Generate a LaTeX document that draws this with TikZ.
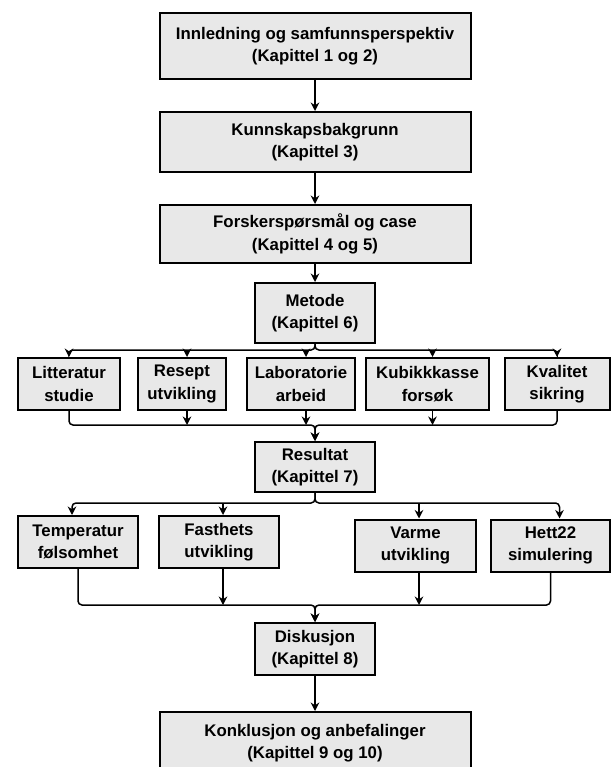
\documentclass[tikz,border=0pt]{standalone}
\usepackage{fontspec}
\setmainfont{Liberation Sans}
\usetikzlibrary{arrows.meta}
\definecolor{boxgray}{HTML}{E8E8E8}
\begin{document}
\begin{tikzpicture}[x=1pt,y=-1pt,
  box/.style={draw=black, line width=2pt, fill=boxgray, align=center, inner sep=0pt,
    font=\bfseries\fontsize{16.8}{22.5}\selectfont},
  wide/.style={box, minimum width=311pt},
  mid/.style={box, minimum width=120pt},
  conn/.style={line width=1.5pt, rounded corners=4pt},
  arr/.style={conn, -{Stealth[length=8.5pt,width=8.5pt]}}]
\useasboundingbox (0,0) rectangle (611,767);
\fill[white] (0,0) rectangle (611,767);

\node[wide, minimum height=66pt] (n1) at (315,46) {Innledning og samfunnsperspektiv\\(Kapittel 1 og 2)};
\node[wide, minimum height=60pt] (n2) at (315,142) {Kunnskapsbakgrunn\\(Kapittel 3)};
\node[wide, minimum height=58pt] (n3) at (315,234) {Forskerspørsmål og case\\(Kapittel 4 og 5)};
\node[mid, minimum height=60pt] (met) at (315,313) {Metode\\(Kapittel 6)};

\node[box, minimum width=102pt, minimum height=52pt] (lit) at (69,384) {Litteratur\\studie};
\node[box, minimum width=88pt, minimum height=52pt] (res) at (182,384) {Resept\\utvikling};
\node[box, minimum width=108pt, minimum height=52pt] (lab) at (301,384) {Laboratorie\\arbeid};
\node[box, minimum width=123pt, minimum height=52pt] (kub) at (427.5,384) {Kubikkkasse\\forsøk};
\node[box, minimum width=105pt, minimum height=52pt] (kva) at (557,384) {Kvalitet\\sikring};

\node[mid, minimum height=50pt] (resu) at (315,467) {Resultat\\(Kapittel 7)};

\node[mid, minimum height=52pt] (tem) at (78,542) {Temperatur\\følsomhet};
\node[mid, minimum height=52pt] (fas) at (219,542) {Fasthets\\utvikling};
\node[box, minimum width=121pt, minimum height=52pt] (var) at (415.5,545.5) {Varme\\utvikling};
\node[box, minimum width=119pt, minimum height=52pt] (het) at (550.5,545.5) {Hett22\\simulering};

\node[mid, minimum height=52pt] (dis) at (315,649) {Diskusjon\\(Kapittel 8)};
\node[wide, minimum height=62pt] (kon) at (315,743) {Konklusjon og anbefalinger\\(Kapittel 9 og 10)};

\coordinate (b1) at (315,350);
\coordinate (m1) at (315,425);
\coordinate (b2) at (315,503);
\coordinate (m2) at (315,605);

\draw[arr] (n1.south) -- (n2.north);
\draw[arr] (n2.south) -- (n3.north);
\draw[arr] (n3.south) -- (met.north);

% branch 1
\draw[arr] (met.south) -- (met.south |- b1) -| (lit.north);
\draw[arr] (met.south) -- (met.south |- b1) -| (kva.north);
\draw[arr] ([xshift=5pt]res.north |- b1) -- ([xshift=5pt]res.north);
\draw[arr] ([xshift=5pt]lab.north |- b1) -- ([xshift=5pt]lab.north);
\draw[arr] ([xshift=5pt]kub.north |- b1) -- ([xshift=5pt]kub.north);

% merge 1
\draw[arr] (lit.south) |- (resu.north |- m1) -- (resu.north);
\draw[arr] (kva.south) |- (resu.north |- m1) -- (resu.north);
\draw[arr] ([xshift=5pt]res.south) -- ([xshift=5pt]res.south |- m1);
\draw[arr] ([xshift=5pt]lab.south) -- ([xshift=5pt]lab.south |- m1);
\draw[arr] ([xshift=5pt]kub.south) -- ([xshift=5pt]kub.south |- m1);

% branch 2
\draw[arr] (resu.south) -- (resu.south |- b2) -| ([xshift=-6pt]tem.north);
\draw[arr] (resu.south) -- (resu.south |- b2) -| ([xshift=9pt]het.north);
\draw[arr] ([xshift=4pt]fas.north |- b2) -- ([xshift=4pt]fas.north);
\draw[arr] ([xshift=3.5pt]var.north |- b2) -- ([xshift=3.5pt]var.north);

% merge 2
\draw[arr] (tem.south) |- (dis.north |- m2) -- (dis.north);
\draw[arr] (het.south) |- (dis.north |- m2) -- (dis.north);
\draw[arr] ([xshift=4pt]fas.south) -- ([xshift=4pt]fas.south |- m2);
\draw[arr] ([xshift=3.5pt]var.south) -- ([xshift=3.5pt]var.south |- m2);

\draw[arr] (dis.south) -- (kon.north);
\end{tikzpicture}
\end{document}
